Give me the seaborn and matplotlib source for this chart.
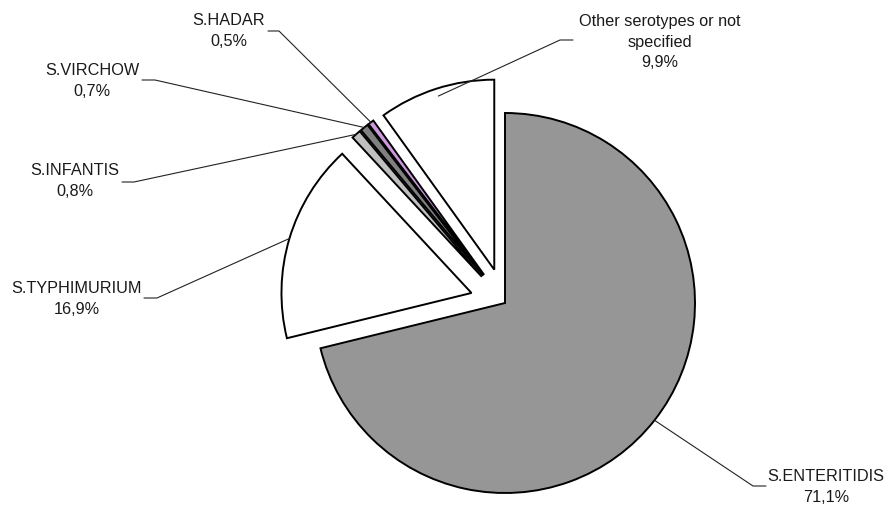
import numpy as np
import seaborn as sns
import matplotlib
matplotlib.use('Agg')
import matplotlib.pyplot as plt


labels = ['S.ENTERITIDIS', 'S.TYPHIMURIUM', 'S.INFANTIS', 'S.VIRCHOW',
          'S.HADAR', 'Other serotypes or not\nspecified']
pct_text = ['71,1%', '16,9%', '0,8%', '0,7%', '0,5%', '9,9%']
values = [71.1, 16.9, 0.8, 0.7, 0.5, 9.9]
colors = ['#969696', '#ffffff', '#c0c0c0', '#808080', '#cc99dd', '#ffffff']

# label layout in pixel coords (y down): text centre, line start, elbow
text_xy = [(826, 487), (77, 299), (75, 181), (92, 81), (229, 31), (660, 42)]
line_start = [(766, 486), (144, 298), (122, 182), (142, 80), (268, 31), (573, 40)]
elbow = [(753, 486), (157, 298), (134, 182), (155, 80), (279, 31), (560, 40)]
anchor_r = [1.0, 1.0, 1.0, 1.0, 1.0, 0.96]

W, H = 888, 507

sns.set_theme(style='white')
plt.rcParams['font.family'] = ['Liberation Sans', 'DejaVu Sans']

fig = plt.figure(figsize=(W / 100, H / 100), dpi=100)
ax = fig.add_axes([0, 0, 1, 1])

# pie explode is in data units here (radius = 190 px)
explode = [0, 35, 35, 35, 35, 35]
wedges, _ = ax.pie(values, colors=colors, explode=explode, startangle=90,
                   counterclock=False, center=(505, H - 303), radius=190,
                   wedgeprops=dict(edgecolor='black', linewidth=1.4),
                   normalize=True)

for i, w in enumerate(wedges):
    mid = np.deg2rad((w.theta1 + w.theta2) / 2)
    cx, cy = w.center
    r = w.r * anchor_r[i]
    ax_pt = (cx + r * np.cos(mid), cy + r * np.sin(mid))
    xs = [line_start[i][0], elbow[i][0], ax_pt[0]]
    ys = [H - line_start[i][1], H - elbow[i][1], ax_pt[1]]
    ax.plot(xs, ys, color='#222222', lw=0.8, zorder=5)
    ax.text(text_xy[i][0], H - text_xy[i][1], labels[i] + '\n' + pct_text[i],
            ha='center', va='center', fontsize=11.7, color='#1a1a1a',
            linespacing=1.45)

ax.set_xlim(0, W)
ax.set_ylim(0, H)
ax.set_aspect('equal')
ax.axis('off')

fig.savefig('out.png', dpi=100, facecolor='white')
